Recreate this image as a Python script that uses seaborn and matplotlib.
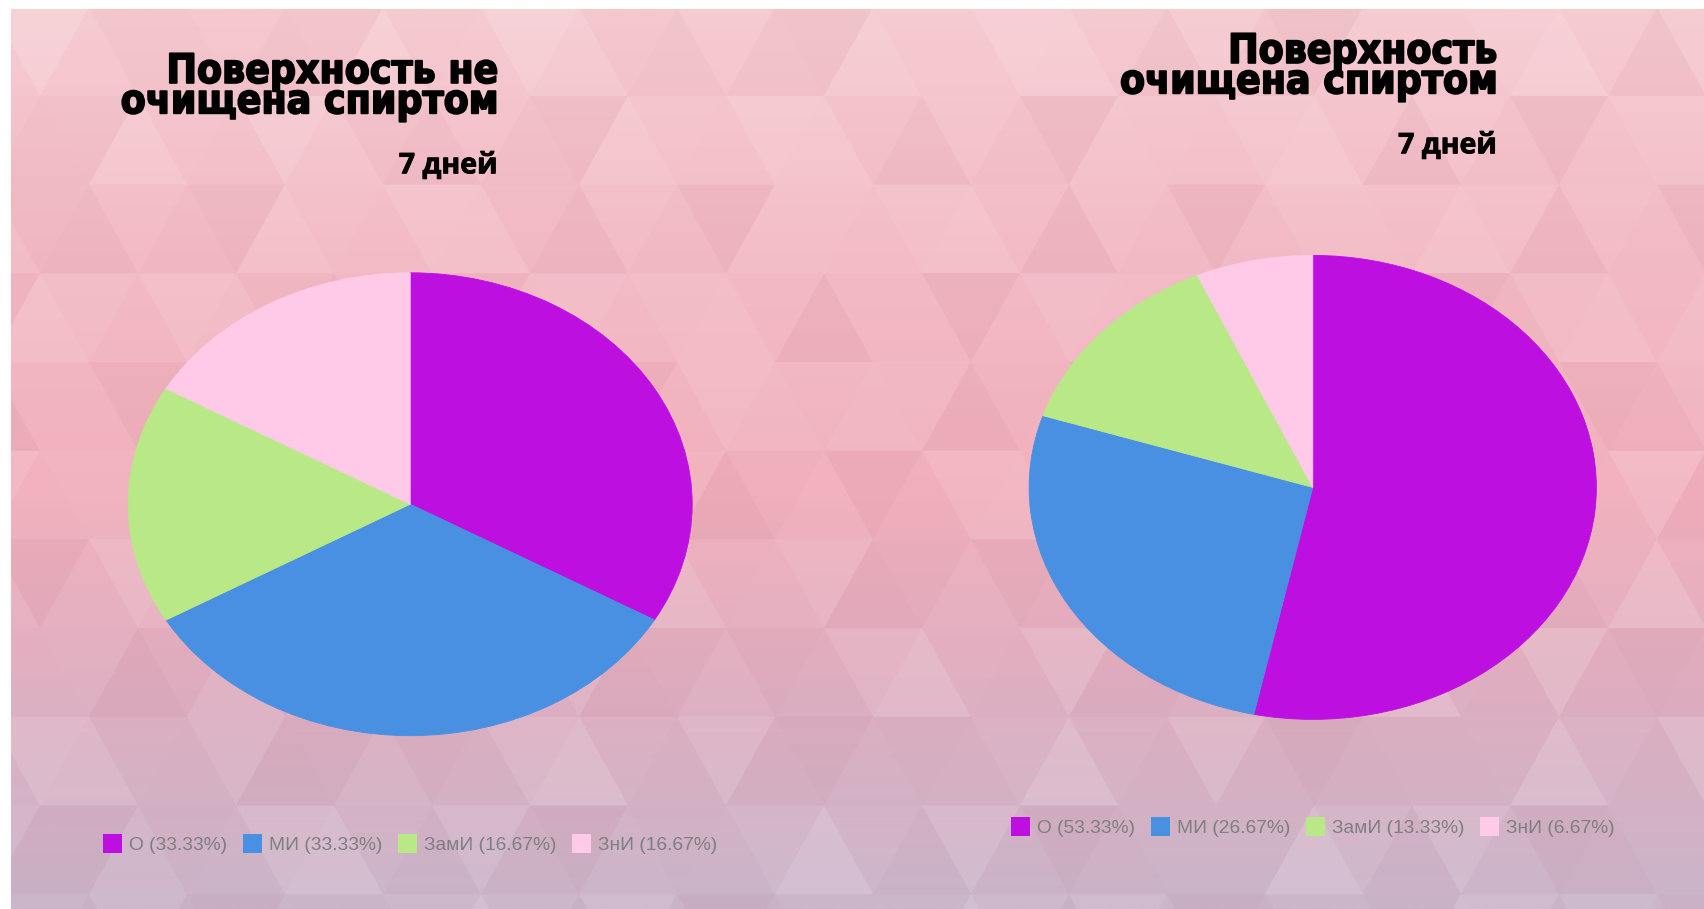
import numpy as np
import matplotlib
matplotlib.use('Agg')
import matplotlib.pyplot as plt
from matplotlib.patches import Polygon, Rectangle, Patch
from matplotlib.colors import to_rgb
from matplotlib import font_manager
import matplotlib.patheffects as pe
import seaborn as sns

# ---------------- data ----------------
categories = ['О', 'МИ', 'ЗамИ', 'ЗнИ']
share_not_cleaned = [33.33, 33.33, 16.67, 16.67]
share_cleaned = [53.33, 26.67, 13.33, 6.67]
title_not_cleaned = 'Поверхность не\nочищена спиртом'
title_cleaned = 'Поверхность\nочищена спиртом'
subtitle = '7 дней'
slice_colors = ['#bd10e0', '#4a90e2', '#b8e986', '#ffcae8']

sns.set_theme(style='white')
plt.rcParams['font.family'] = ['DejaVu Sans']
palette = sns.color_palette(slice_colors)

W, H = 1704, 909
fig = plt.figure(figsize=(W / 100, H / 100), dpi=100)
fig.patch.set_facecolor('white')

# ---------------- background ----------------
bg = fig.add_axes([0, 0, 1, 1], zorder=0)
stops_y = [9, 250, 500, 700, 909]
stops_c = ['#f6cbd1', '#f3bbc5', '#f1b0bc', '#deafc2', '#cbb6ca']
ys = np.linspace(9, 909, 300)
cols = np.array([to_rgb(c) for c in stops_c])
grad = np.stack([np.interp(ys, stops_y, cols[:, i]) for i in range(3)], axis=-1)[:, None, :]
bg.imshow(grad, extent=(11, W, 909, 9), aspect='auto', interpolation='bilinear', zorder=0)

tw, th = 98.0, 88.7
y_start, x_ref = 7.2, 873.0
for k in range(-1, 11):
    top = y_start + k * th
    bot = top + th
    off = x_ref + (k % 2) * 49.0
    for m in range(-11, 10):
        apx = off + m * tw
        for up in (0, 1):
            if up:
                pts = [(apx, top), (apx - tw / 2, bot), (apx + tw / 2, bot)]
            else:
                pts = [(apx, top), (apx + tw, top), (apx + tw / 2, bot)]
            v = np.sin(m * 1.9 + k * 2.7 + up * 1.3) * np.cos(m * 0.7 - k * 1.1 + up)
            if v > 0:
                fc, a = 'white', 0.15 * v
            else:
                fc, a = '#a8566c', 0.08 * (-v)
            bg.add_patch(Polygon(pts, closed=True, facecolor=fc, edgecolor='none', alpha=a, zorder=1))

bg.add_patch(Rectangle((0, 0), W, 9, facecolor='white', edgecolor='none', zorder=3))
bg.add_patch(Rectangle((0, 0), 11, H, facecolor='white', edgecolor='none', zorder=3))
bg.set_xlim(0, W)
bg.set_ylim(H, 0)
bg.axis('off')

# ---------------- fonts ----------------
names_stretch = {(f.name, f.stretch) for f in font_manager.fontManager.ttflist}
has_cond = any(n == 'DejaVu Sans' and s == 'condensed' for n, s in names_stretch)
title_kw = dict(family='DejaVu Sans', weight='bold', color='black', ha='right',
                va='baseline', multialignment='right', linespacing=0.69,
                path_effects=[pe.withStroke(linewidth=1.3, foreground='black')])
if has_cond:
    title_kw['fontstretch'] = 'condensed'
    title_fs = 29.2
else:
    title_fs = 26
sub_kw = dict(family=['Open Sans', 'DejaVu Sans'], weight='bold', color='black',
              ha='right', va='baseline', fontsize=20.5,
              path_effects=[pe.withStroke(linewidth=0.6, foreground='black')])

# ---------------- titles ----------------
bg.text(497.7, 113.3, title_not_cleaned, fontsize=title_fs, zorder=5, **title_kw)
bg.text(497.7, 173.3, subtitle, zorder=5, **sub_kw)

bg.text(1497, 93.3, title_cleaned, fontsize=title_fs, zorder=5, **title_kw)
bg.text(1497, 153.3, subtitle, zorder=5, **sub_kw)


# ---------------- pies ----------------
def draw_pie(x0, x1, y0, y1, values, legend_cy):
    box = [x0 / W, 1 - y1 / H, (x1 - x0) / W, (y1 - y0) / H]
    ax = fig.add_axes(box, zorder=2)
    wedges, _ = ax.pie(values, colors=palette, startangle=90, counterclock=False, radius=1.0)
    for w_, c in zip(wedges, palette):
        w_.set_edgecolor(c)
        w_.set_linewidth(0.6)
    ax.set_aspect('auto')
    ax.set_xlim(-1, 1)
    ax.set_ylim(-1, 1)
    ax.axis('off')
    handles = [Patch(facecolor=c, edgecolor='none', label=f'{cat} ({v:.2f}%)')
               for c, cat, v in zip(palette, categories, values)]
    fig.legend(handles=handles, loc='center',
               bbox_to_anchor=((x0 + x1) / 2 / W, 1 - legend_cy / H),
               bbox_transform=fig.transFigure, ncol=4, frameon=False,
               prop=dict(family='Liberation Sans', size=13.8),
               handlelength=1.0, handleheight=1.17, handletextpad=0.37,
               columnspacing=0.8, labelcolor='#7f7f7f', borderaxespad=0, borderpad=0)


draw_pie(128.2, 692.2, 272.8, 735.7, share_not_cleaned, 844)
draw_pie(1029.1, 1596.4, 255.4, 719.4, share_cleaned, 826.6)

fig.savefig('out.png', dpi=100, facecolor='white')
